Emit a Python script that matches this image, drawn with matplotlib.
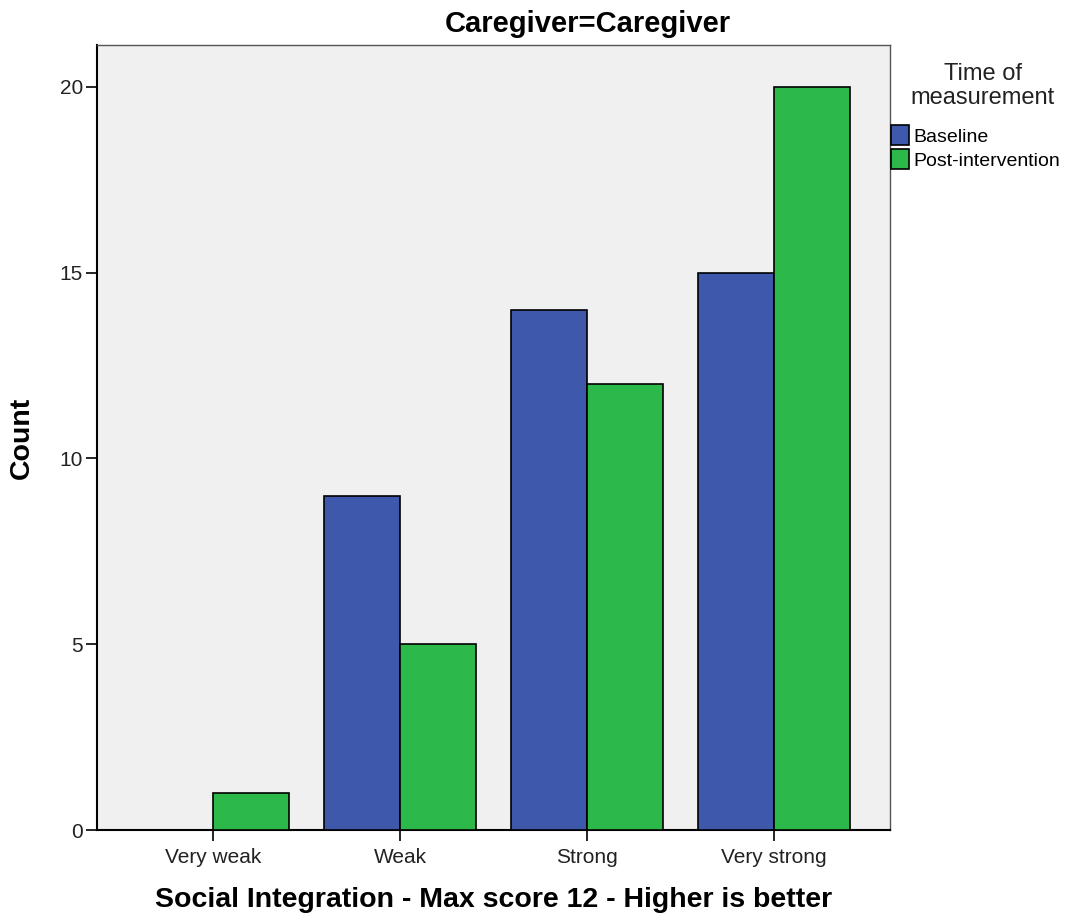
import matplotlib
matplotlib.use("Agg")
import matplotlib.pyplot as plt
from matplotlib.patches import Patch
import numpy as np

plt.rcParams['font.family'] = ['Liberation Sans', 'DejaVu Sans']

categories = ["Very weak", "Weak", "Strong", "Very strong"]
baseline = [0, 9, 14, 15]
post = [1, 5, 12, 20]
series_names = ["Baseline", "Post-intervention"]
colors = ["#3e58ac", "#2db84a"]
yticks = [0, 5, 10, 15, 20]

fig = plt.figure(figsize=(10.77, 9.22), dpi=100)
ax = fig.add_axes([97/1077, 1-830/922, (890-97)/1077, (830-45)/922])
ax.set_facecolor("#f0f0f0")

x = np.arange(len(categories))
w = 0.405
for vals, xs, c in [(baseline, x - w/2, colors[0]), (post, x + w/2, colors[1])]:
    ax.bar(xs, vals, width=w, color=c, edgecolor="black", linewidth=1.2, zorder=3)

ax.set_xlim(-0.62, 3.62)
ax.set_ylim(0, 21.13)
ax.set_xticks(x)
ax.set_xticklabels(categories, fontsize=15)
ax.set_yticks(yticks)
ax.set_yticklabels([str(t) for t in yticks], fontsize=15)
ax.tick_params(axis='both', direction='out', length=8, width=1.2, colors="black", labelcolor="#222222")
ax.tick_params(axis='x', pad=5)
ax.tick_params(axis='y', pad=2)
for s in ['left', 'bottom']:
    ax.spines[s].set_color('black')
    ax.spines[s].set_linewidth(1.5)
for s in ['top', 'right']:
    ax.spines[s].set_color('#555555')
    ax.spines[s].set_linewidth(1.0)

ax.set_xlabel("Social Integration - Max score 12 - Higher is better", fontsize=20.5, fontweight='bold', labelpad=14)
ax.set_ylabel("Count", fontsize=20.5, fontweight='bold', labelpad=18)

fig.text(588/1077, 1-24/922, "Caregiver=Caregiver", ha='center', va='center', fontsize=21, fontweight='bold')

# legend title
fig.text(983/1077, 1-86/922, "Time of\nmeasurement", ha='center', va='center',
         multialignment='center', fontsize=17, linespacing=1.1, color="#222222")

handles = [Patch(facecolor=colors[i], edgecolor='black', linewidth=1.2, label=series_names[i]) for i in range(2)]
leg = fig.legend(handles=handles, loc='upper left', bbox_to_anchor=(891/1077, 1-125/922),
                 frameon=False, fontsize=14, handlelength=0.95, handleheight=1.2,
                 handletextpad=0.2, labelspacing=0.2, borderpad=0.0, borderaxespad=0.0)

fig.savefig("out.png", dpi=100)
